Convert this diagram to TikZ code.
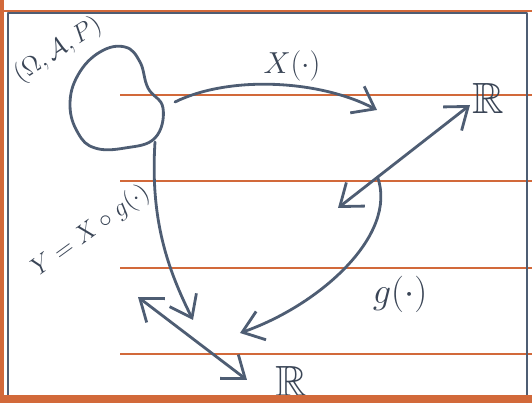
\documentclass[tikz,border=0pt]{standalone}
\usepackage{amsmath,amssymb}
\usepackage{tikz}
\usetikzlibrary{arrows.meta,positioning,calc}
\usepackage{xcolor}
\definecolor{inkgrey}{HTML}{4E5D73}
\definecolor{inkdark}{HTML}{3A4556}
\definecolor{rulered}{HTML}{D2693A}

\begin{document}
\begin{tikzpicture}[x=0.02cm, y=-0.02cm,
  ink/.style={draw=inkgrey, line width=1.6pt, line cap=round, line join=round},
  tip/.style={-{Straight Barb[length=4mm,width=6mm]}},
  twoway/.style={{Straight Barb[length=4mm,width=6mm]}-{Straight Barb[length=4mm,width=6mm]}},
  lbl/.style={text=inkdark, font=\Large}]
\useasboundingbox (0,0) rectangle (532,412);
% paper
\fill[rulered] (0,0) rectangle (4,398);
\draw[rulered, line width=1.3pt] (0,11) -- (532,11);
\foreach \y in {95,181,268,354}
  \draw[rulered, line width=1.1pt] (120,\y) -- (532,\y);
\draw[ink, line width=1.2pt] (8,13) rectangle (527,396);
% probability space
\draw[ink] plot[smooth cycle, tension=0.7] coordinates {(125,47) (140,62) (148,88)
  (163,108) (155,138) (125,148) (95,148) (78,133) (70,105) (78,75) (100,52)};
\node[lbl, rotate=33] (space) at (58,50) {$(\Omega,\mathcal{A},P)$};
\coordinate (omegaE) at (175,102);
\coordinate (omegaS) at (155,142);
% the two real lines
\coordinate (Rtop0) at (338,208);
\coordinate (Rtop1) at (470,105);
\node[lbl, font=\Huge] (Rtop) at (488,98) {$\mathbb{R}$};
\draw[ink, twoway] (Rtop0) -- (Rtop1);
\coordinate (Rbot0) at (138,297);
\coordinate (Rbot1) at (247,380);
\node[lbl, font=\Huge] (Rbot) at (291,381) {$\mathbb{R}$};
\draw[ink, twoway] (Rbot0) -- (Rbot1);
% maps
\coordinate (xend) at (377,110);
\draw[ink, tip] (omegaE) .. controls (230,75) and (320,80) .. (xend);
\node[lbl, font=\LARGE] (xlbl) at (292,66) {$X(\cdot)$};
\coordinate (gstart) at ($(Rtop0)!0.3!(Rtop1)$);
\coordinate (gend) at (240,333);
\draw[ink, tip] (gstart) .. controls (398,235) and (320,305) .. (gend);
\node[lbl, font=\huge] (glbl) at (400,294) {$g(\cdot)$};
\coordinate (yend) at (193,320);
\draw[ink, tip] (omegaS) .. controls (150,220) and (168,270) .. (yend);
\node[lbl, rotate=36] (ylbl) at (91,231) {$Y=X\circ g(\cdot)$};
\fill[rulered] (0,395) rectangle (532,403);
\end{tikzpicture}
\end{document}
